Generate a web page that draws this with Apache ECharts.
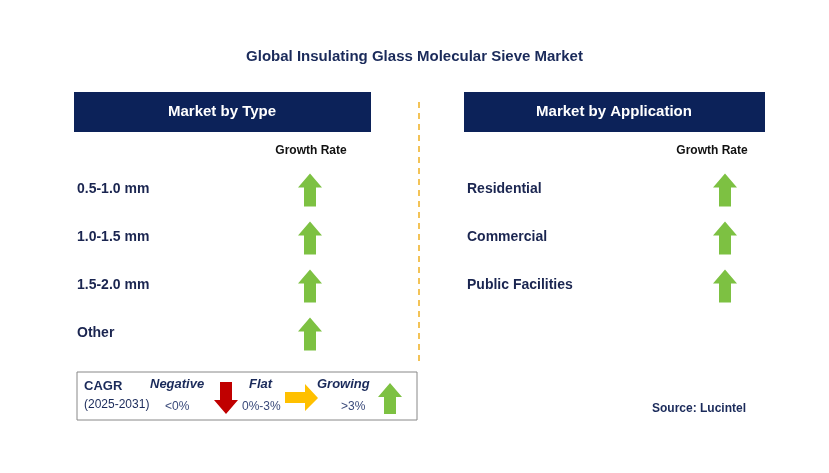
<!DOCTYPE html><html><head><meta charset="utf-8">
<script src="https://cdn.jsdelivr.net/npm/echarts@6/dist/echarts.min.js"></script>
<style>html,body{margin:0;padding:0;background:#fff}#c{width:829px;height:473px}</style></head><body><div id="c"></div>
<script>
const title = 'Global Insulating Glass Molecular Sieve Market';
const typeCategories = ['0.5-1.0 mm','1.0-1.5 mm','1.5-2.0 mm','Other'];
const typeGrowth = ['up','up','up','up'];
const appCategories = ['Residential','Commercial','Public Facilities'];
const appGrowth = ['up','up','up'];

const F = 'Arial, "Liberation Sans", sans-serif';
const upPath = 'path://M12,0 L24,14 L18,14 L18,33 L6,33 L6,14 L0,14 Z';
const chart = echarts.init(document.getElementById('c'));
function pts(g){return g.map((d,i)=>[0.5,i+0.5,d]);}
function catText(cats, x){return cats.map((c,i)=>({type:'text',left:x,top:182+i*48,style:{text:c,font:'bold 14px '+F,fill:'#1a2550'}}));}
const graphic = [
 {type:'text',left:'center',top:49,style:{text:title,font:'bold 15px '+F,fill:'#1a2a5a'}},
 {type:'rect',shape:{x:74,y:92,width:297,height:40},style:{fill:'#0c2259'}},
 {type:'text',x:222,y:112,style:{text:'Market by Type',font:'bold 15px '+F,fill:'#fff',textAlign:'center',textVerticalAlign:'middle'}},
 {type:'rect',shape:{x:464,y:92,width:301,height:40},style:{fill:'#0c2259'}},
 {type:'text',x:614,y:112,style:{text:'Market by Application',font:'bold 15px '+F,fill:'#fff',textAlign:'center',textVerticalAlign:'middle'}},
 {type:'text',x:311,y:151,style:{text:'Growth Rate',font:'bold 12px '+F,fill:'#111',textAlign:'center',textVerticalAlign:'middle'}},
 {type:'text',x:712,y:151,style:{text:'Growth Rate',font:'bold 12px '+F,fill:'#111',textAlign:'center',textVerticalAlign:'middle'}},
 {type:'line',shape:{x1:419,y1:102,x2:419,y2:366},style:{stroke:'#f0b020',lineWidth:1.5,lineDash:[6,5]}},
 ...catText(typeCategories,77), ...catText(appCategories,467),
 {type:'rect',shape:{x:77,y:372,width:340,height:48},style:{fill:'#fff',stroke:'#888',lineWidth:1}},
 {type:'text',left:84,top:380,style:{text:'CAGR',font:'bold 13px '+F,fill:'#1a2a5a'}},
 {type:'text',left:84,top:399,style:{text:'(2025-2031)',font:'12px '+F,fill:'#1a2a5a'}},
 {type:'text',left:150,top:378,style:{text:'Negative',font:'italic bold 13px '+F,fill:'#1a2a5a'}},
 {type:'text',left:165,top:401,style:{text:'<0%',font:'12px '+F,fill:'#3a4a7a'}},
 {type:'polygon',shape:{points:[[220,382],[232,382],[232,400],[238,400],[226,414],[214,400],[220,400]]},style:{fill:'#c00000'}},
 {type:'text',left:249,top:378,style:{text:'Flat',font:'italic bold 13px '+F,fill:'#1a2a5a'}},
 {type:'text',left:242,top:401,style:{text:'0%-3%',font:'12px '+F,fill:'#3a4a7a'}},
 {type:'polygon',shape:{points:[[285,392],[305,392],[305,384],[318,398],[305,411],[305,403],[285,403]]},style:{fill:'#ffc000'}},
 {type:'text',left:317,top:378,style:{text:'Growing',font:'italic bold 13px '+F,fill:'#1a2a5a'}},
 {type:'text',left:341,top:401,style:{text:'>3%',font:'12px '+F,fill:'#3a4a7a'}},
 {type:'polygon',shape:{points:[[390,383],[402,397],[396,397],[396,414],[384,414],[384,397],[378,397]]},style:{fill:'#7dc142'}},
 {type:'text',left:652,top:403,style:{text:'Source: Lucintel',font:'bold 12px '+F,fill:'#1a2a5a'}}
];
const ax = {show:false};
chart.setOption({
 animation:false,
 graphic,
 grid:[{left:298,width:24,top:166,height:192},{left:713,width:24,top:166,height:192}],
 xAxis:[{...ax,type:'value',min:0,max:1,gridIndex:0},{...ax,type:'value',min:0,max:1,gridIndex:1}],
 yAxis:[{...ax,type:'value',min:0,max:4,inverse:true,gridIndex:0},{...ax,type:'value',min:0,max:4,inverse:true,gridIndex:1}],
 series:[
  {type:'scatter',xAxisIndex:0,yAxisIndex:0,data:pts(typeGrowth),symbol:upPath,symbolSize:[24,33],itemStyle:{color:'#7dc142',opacity:1}},
  {type:'scatter',xAxisIndex:1,yAxisIndex:1,data:pts(appGrowth),symbol:upPath,symbolSize:[24,33],itemStyle:{color:'#7dc142',opacity:1}}
 ]
});
</script></body></html>
